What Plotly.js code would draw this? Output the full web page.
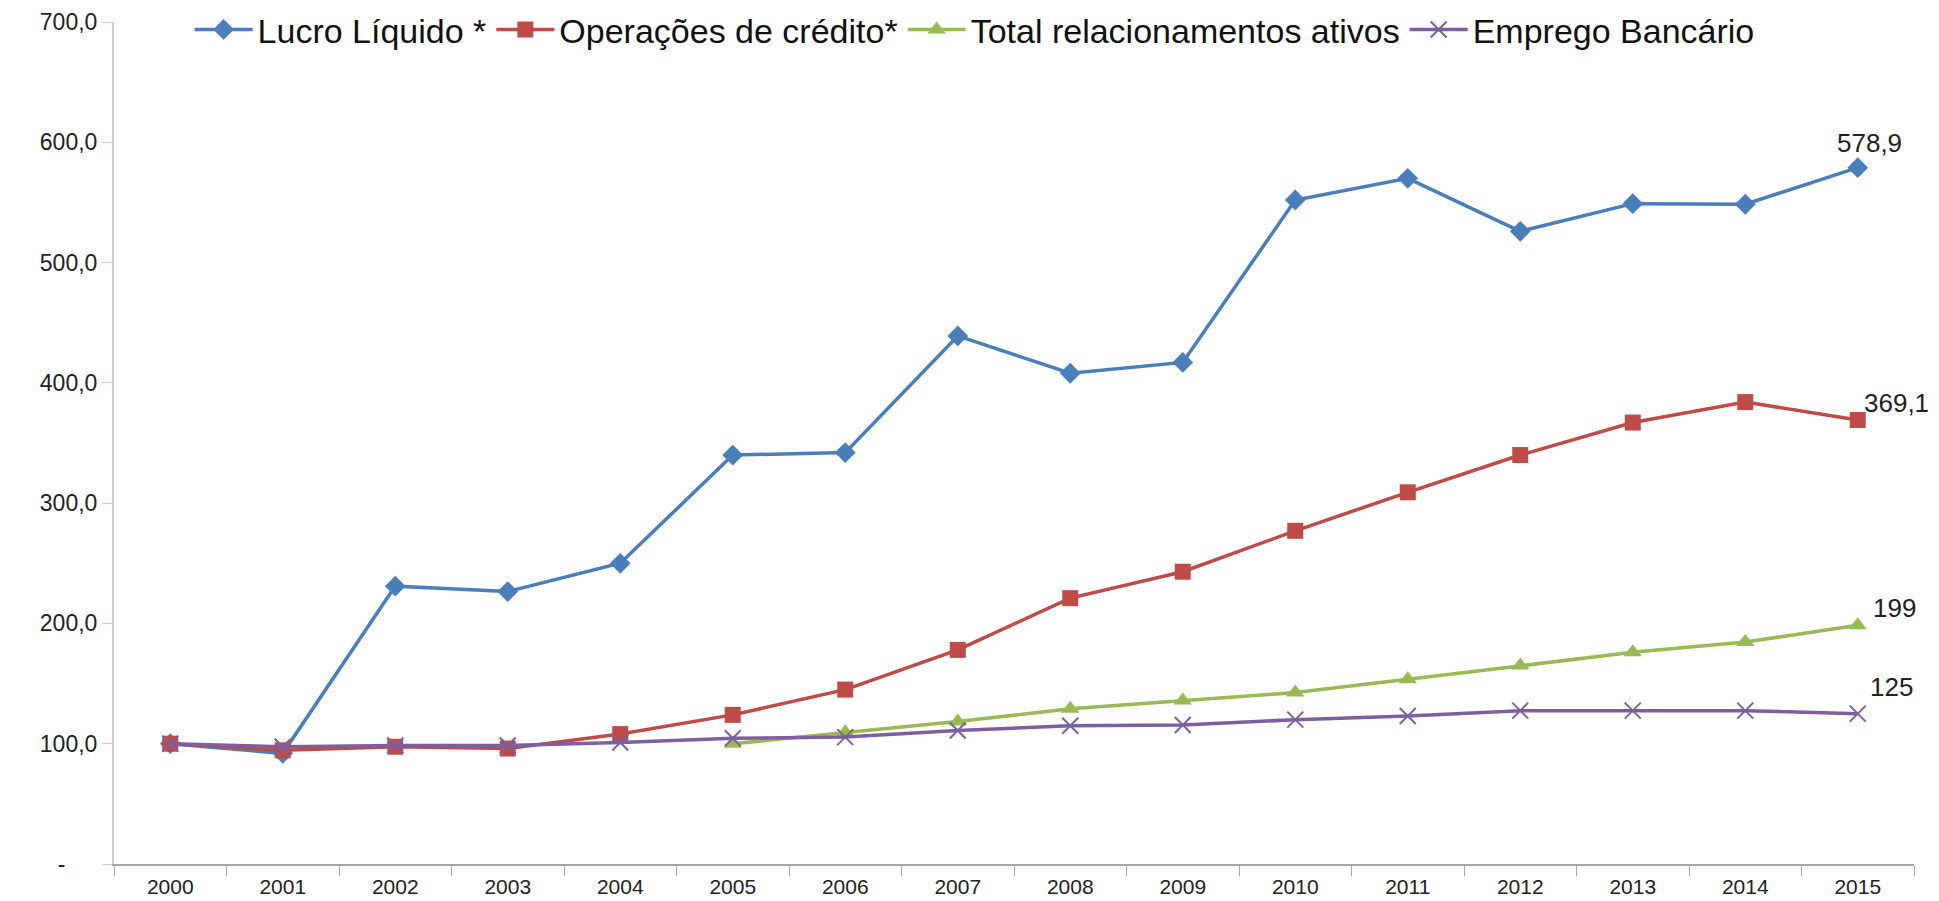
<!DOCTYPE html>
<html>
<head>
<meta charset="utf-8">
<script src="https://cdn.plot.ly/plotly-3.0.1.min.js"></script>
<style>
html,body{margin:0;padding:0;background:#fff;}
#chart{width:1939px;height:901px;}
</style>
</head>
<body>
<div id="chart"></div>
<script>
var years = ["2000","2001","2002","2003","2004","2005","2006","2007","2008","2009","2010","2011","2012","2013","2014","2015"];
var lucroLiquido = [100, 92, 231, 226.5, 250, 340, 342, 439, 408, 417, 552, 570, 526, 549, 548.5, 578.9];
var operacoesCredito = [100, 94.5, 97.5, 96, 108, 124, 145, 178, 221, 243, 277, 309, 340, 367, 384, 369.1];
var relacionamentosAtivos = [null, null, null, null, null, 100, 109.5, 118.5, 129, 136, 142.5, 153.5, 165, 176, 184.5, 198.5];
var empregoBancario = [100, 97.5, 98.5, 98.5, 101, 104.5, 105.5, 111, 115, 115.5, 120, 123, 127.5, 127.5, 127.5, 125];
var seriesNames = ["Lucro Líquido *", "Operações de crédito*", "Total relacionamentos ativos", "Emprego Bancário"];
var endLabels = ["578,9", "369,1", "199", "125"];
var yTickVals = [0, 100, 200, 300, 400, 500, 600, 700];
var yTickText = ["-\u00a0\u00a0\u00a0\u00a0\u00a0", "100,0", "200,0", "300,0", "400,0", "500,0", "600,0", "700,0"];

var FONT = "Liberation Sans, Arial, sans-serif";
var colors = ["#4A7EBB", "#BE4B48", "#98B954", "#7D5FA0"];

var traces = [
  {x: years, y: lucroLiquido, name: seriesNames[0], type: "scatter", mode: "lines+markers",
   line: {color: colors[0], width: 3.5}, marker: {symbol: "diamond", size: 16, color: colors[0]}},
  {x: years, y: operacoesCredito, name: seriesNames[1], type: "scatter", mode: "lines+markers",
   line: {color: colors[1], width: 3.5}, marker: {symbol: "square", size: 16, color: colors[1]}},
  {x: years, y: relacionamentosAtivos, name: seriesNames[2], type: "scatter", mode: "lines+markers",
   line: {color: colors[2], width: 3.5}, marker: {symbol: "triangle-up", size: 16, color: colors[2]}},
  {x: years, y: empregoBancario, name: seriesNames[3], type: "scatter", mode: "lines+markers",
   line: {color: colors[3], width: 3.5}, marker: {symbol: "x-thin-open", size: 16, color: colors[3], line: {color: colors[3], width: 2}}}
];

var allSeries = [lucroLiquido, operacoesCredito, relacionamentosAtivos, empregoBancario];
var shifts = [[12, 25], [39, 17], [37, 17], [34, 27]];
var lastIndex = years.length - 1;
var annotations = allSeries.map(function(s, i){
  return {x: lastIndex, y: s[s.length-1], xref: "x", yref: "y", text: endLabels[i],
    showarrow: false, xshift: shifts[i][0], yshift: shifts[i][1],
    font: {family: FONT, size: 26, color: "#222"}};
});

var layout = {
  width: 1939, height: 901,
  margin: {l: 114, r: 25, t: 0, b: 37, pad: 0},
  paper_bgcolor: "#fff", plot_bgcolor: "#fff",
  font: {family: FONT, color: "#222"},
  showlegend: true,
  legend: {orientation: "h", x: 0.042, xanchor: "left", y: 0.999, yanchor: "top",
    font: {family: FONT, size: 34, color: "#111"}, bgcolor: "rgba(0,0,0,0)", itemwidth: 58,
    traceorder: "normal"},
  xaxis: {type: "category", categoryorder: "array", categoryarray: years, range: [-0.5, 15.5],
    showline: true, linecolor: "#a6a6a6", linewidth: 2, ticks: "outside", tickson: "boundaries",
    ticklen: 10, tickcolor: "#a6a6a6", tickwidth: 1, showgrid: false, zeroline: false,
    automargin: false, ticklabelstandoff: 3, tickfont: {family: FONT, size: 21, color: "#222"}},
  yaxis: {range: [0, 700], domain: [0, 842/864], tickvals: yTickVals, ticktext: yTickText, showline: true,
    linecolor: "#cfcfcf", linewidth: 2, ticks: "outside", ticklen: 10, tickcolor: "#cfcfcf",
    showgrid: false, zeroline: false, automargin: false,
    tickfont: {family: FONT, size: 23, color: "#222"}},
  annotations: annotations
};

Plotly.newPlot("chart", traces, layout, {displayModeBar: false, responsive: false});
</script>
</body>
</html>
